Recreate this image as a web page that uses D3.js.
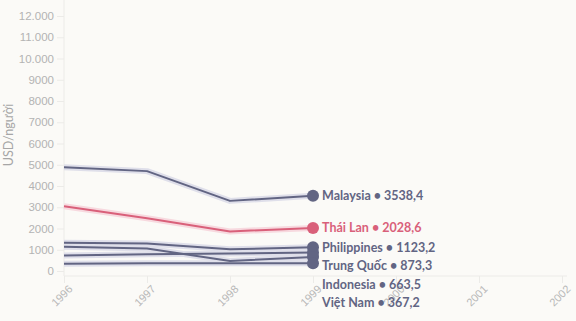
<!DOCTYPE html>
<html><head><meta charset="utf-8">
<script src="https://cdn.jsdelivr.net/npm/d3@7"></script>
<style>
html,body{margin:0;padding:0;background:#fbfaf7;}
svg{display:block;font-family:"Source Sans Pro",Lato,"Open Sans",sans-serif;}
</style></head><body>
<svg id="c" width="576" height="321"></svg>
<script>
const years = [1996, 1997, 1998, 1999];
const axisYears = [1996, 1997, 1998, 1999, 2000, 2001, 2002];
const yTicks = [0,1000,2000,3000,4000,5000,6000,7000,8000,9000,10000,11000,12000];
const countries = ["Malaysia", "Thái Lan", "Philippines", "Trung Quốc", "Indonesia", "Việt Nam"];
const malaysia = [4880, 4700, 3300, 3538.4];
const thailand = [3050, 2480, 1860, 2028.6];
const philippines = [1330, 1290, 1020, 1123.2];
const china = [730, 790, 820, 873.3];
const indonesia = [1140, 1060, 470, 663.5];
const vietnam = [340, 361, 361, 367.2];
const highlight = "Thái Lan";
const yLabel = "USD/người";

const seriesValues = [malaysia, thailand, philippines, china, indonesia, vietnam];
const series = countries.map((c,i)=>({name:c, values:seriesValues[i]}));

const svg = d3.select("#c");
const x = d3.scaleLinear().domain([1996,2002]).range([64,562]);
const y = d3.scaleLinear().domain([0,12000]).range([271,16]);
const fmt = v => (v>=10000 ? d3.format(",")(v).replace(/,/g,".") : String(v));
const fmtVal = v => d3.format(".1f")(v).replace(".", ",");

// axis lines
svg.append("line").attr("x1",64).attr("x2",64).attr("y1",0).attr("y2",276)
  .attr("stroke","#ecebe8").attr("stroke-width",1);
svg.append("line").attr("x1",64).attr("x2",567).attr("y1",276).attr("y2",276)
  .attr("stroke","#ecebe8").attr("stroke-width",1);

// y axis
const yAxis = d3.axisLeft(y).tickValues(yTicks).tickFormat(fmt).tickSize(7).tickPadding(3);
const gy = svg.append("g").attr("transform","translate(64,0)").call(yAxis);
gy.select(".domain").remove();
gy.selectAll(".tick line").attr("stroke","#ecebe8");
gy.selectAll(".tick text").attr("fill","#b3b3b3").style("font-size","11.5px")
  .style("font-family","inherit");

// x axis
const xAxis = d3.axisBottom(x).tickValues(axisYears).tickFormat(d=>String(d)).tickSize(7).tickPadding(3);
const gx = svg.append("g").attr("transform","translate(0,276)").call(xAxis);
gx.select(".domain").remove();
gx.selectAll(".tick line").attr("stroke","#ecebe8");
gx.selectAll(".tick text").attr("fill","#b8b8b8").style("font-size","11px")
  .style("font-family","inherit")
  .attr("x",0).attr("y",0).attr("dy","0.35em")
  .attr("text-anchor","end")
  .attr("transform","translate(6,11) rotate(-45)");

// y label
svg.append("text").attr("transform","translate(13,135) rotate(-90)")
  .attr("text-anchor","middle").attr("fill","#a6a6a6").style("font-size","12.5px")
  .text(yLabel);

const line = d3.line().x((d,i)=>x(years[i])).y(d=>y(d));
const colorOf = n => n===highlight ? "#d9607a" : "#626583";
const haloOf = n => n===highlight ? "#f7d9df" : "#dfdfea";

const order = series.slice().sort((a,b)=> (a.name===highlight) - (b.name===highlight));
const g = svg.append("g");
order.forEach(s=>{
  g.append("path").attr("d",line(s.values)).attr("fill","none")
    .attr("stroke",haloOf(s.name)).attr("stroke-width",6).attr("stroke-linejoin","round");
});
order.forEach(s=>{
  g.append("path").attr("d",line(s.values)).attr("fill","none")
    .attr("stroke",colorOf(s.name)).attr("stroke-width",2).attr("stroke-linejoin","round");
});
order.forEach(s=>{
  g.append("circle").attr("cx",x(years[3])).attr("cy",y(s.values[3])).attr("r",6)
    .attr("fill",colorOf(s.name));
});

// labels with collision avoidance
const labs = series.map(s=>({name:s.name, v:s.values[3], y:y(s.values[3])}))
  .sort((a,b)=>a.y-b.y);
let prev = -Infinity;
labs.forEach(l=>{ l.ly = Math.max(l.y, prev + 18.6); prev = l.ly; });
labs.forEach(l=>{
  svg.append("text").attr("x",322).attr("y",l.ly).attr("dy","0.35em")
    .attr("fill", l.name===highlight ? "#d9607a" : "#626583")
    .style("font-size","12.5px").style("font-weight","bold")
    .text(l.name + " • " + fmtVal(l.v));
});
</script></body></html>
